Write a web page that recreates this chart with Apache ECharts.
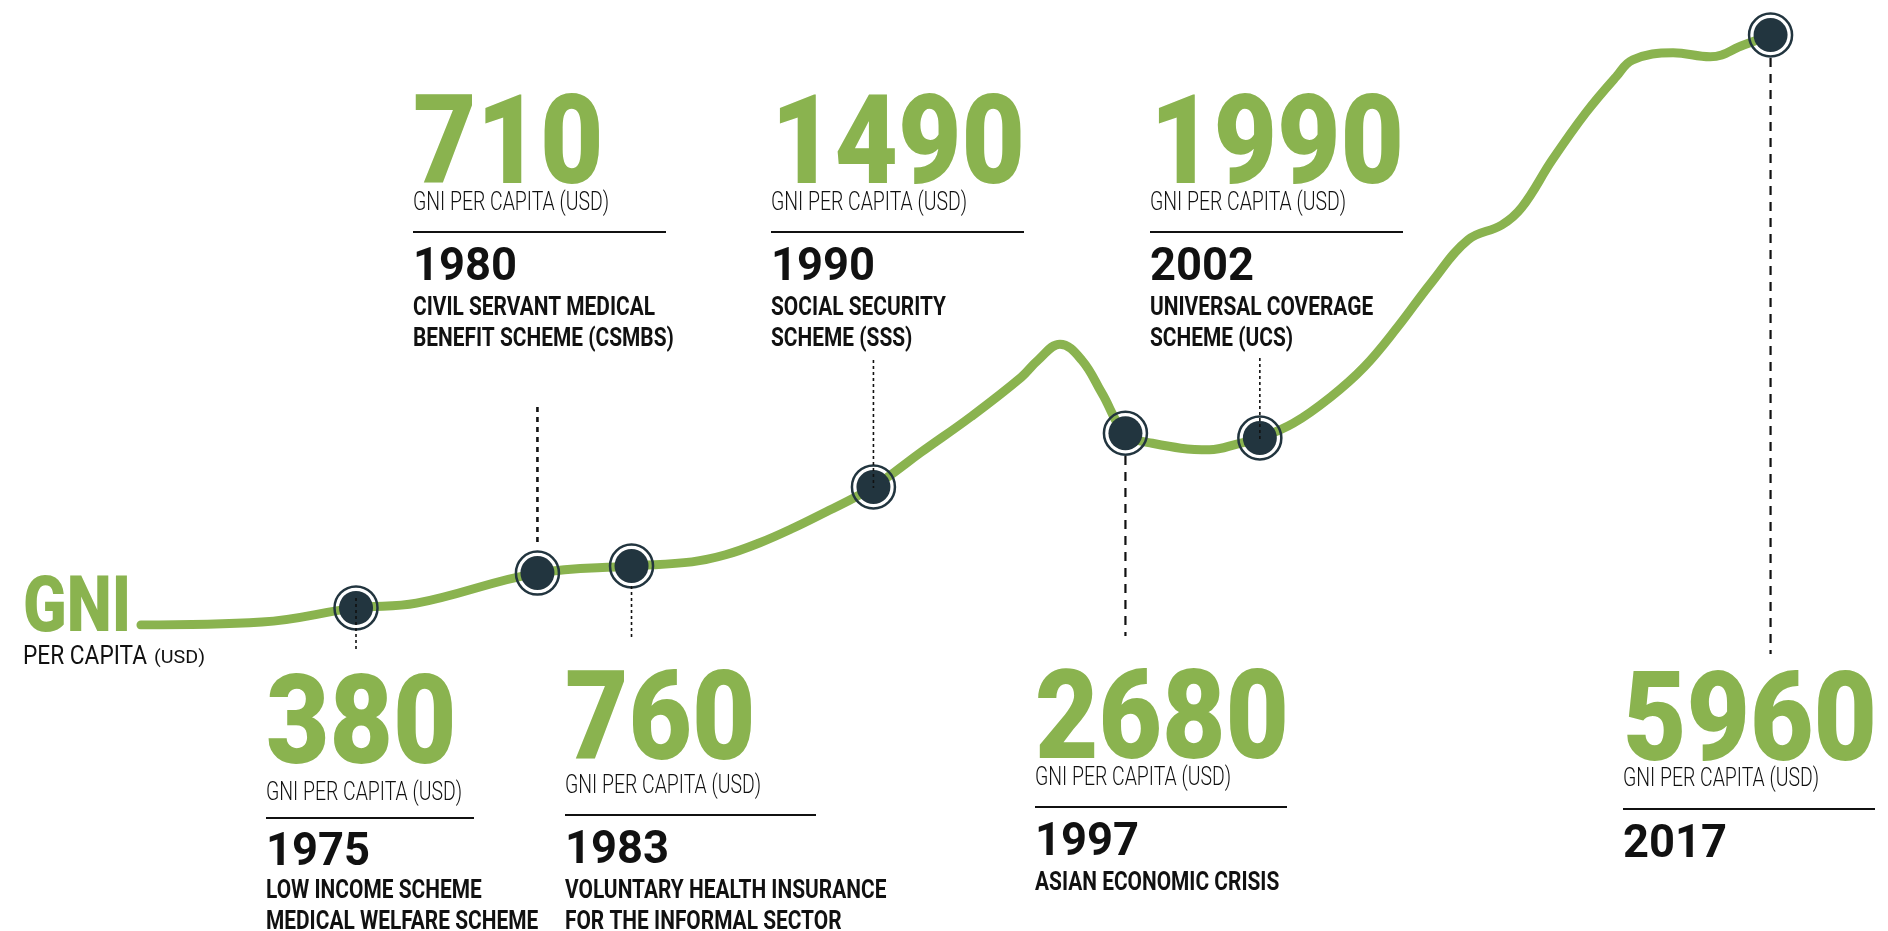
<!DOCTYPE html>
<html>
<head>
<meta charset="utf-8">
<title>GNI per capita timeline</title>
<script src="https://cdn.jsdelivr.net/npm/echarts@6/dist/echarts.min.js"></script>
<style>
  html, body { margin: 0; padding: 0; background: #fff; }
  #chart { width: 1888px; height: 931px; }
</style>
</head>
<body>
<div id="chart"></div>
<script>
// Curve shape: x = timeline year, y = relative height (0-100)
const curveYears = [1968.6, 1972.2, 1976.8, 1985.0, 1986.0, 1987.0, 1988.0, 1989.0, 1989.8,
  1991.0, 1991.8, 1993.3, 1994.8, 1995.3, 1995.95, 1996.6, 1997.2, 1998.7, 2000.4, 2001.3,
  2002.9, 2004.0, 2005.0, 2006.0, 2007.0, 2008.1, 2009.1, 2009.7, 2010.6, 2011.6, 2012.5,
  2013.0, 2014.2, 2015.3, 2016.3]
const curveLevels = [0, 0.5, 3.7, 10.7, 11.9, 13.9, 16.4, 19.2, 21.5,
  25.8, 29.2, 35.3, 42.0, 44.9, 47.6, 44.9, 39.3, 30.8, 29.7, 30.8,
  34.2, 38.6, 43.7, 50.5, 58.0, 65.3, 67.8, 70.8, 78.8, 86.8, 92.9,
  95.8, 97.0, 96.3, 98.3]

// Milestones
const milestoneYears = ['1975', '1980', '1983', '1990', '1997', '2002', '2017']
const milestonePos = [1975.0, 1980.4, 1983.2, 1990.4, 1997.9, 2001.9, 2017.1]
const milestoneLevels = [2.9, 8.8, 10.0, 23.4, 32.5, 31.7, 100]
const gniValues = [380, 710, 760, 1490, 2680, 1990, 5960]
const schemes = [
  ['LOW INCOME SCHEME', 'MEDICAL WELFARE SCHEME'],
  ['CIVIL SERVANT MEDICAL', 'BENEFIT SCHEME (CSMBS)'],
  ['VOLUNTARY HEALTH INSURANCE', 'FOR THE INFORMAL SECTOR'],
  ['SOCIAL SECURITY', 'SCHEME (SSS)'],
  ['ASIAN ECONOMIC CRISIS'],
  ['UNIVERSAL COVERAGE', 'SCHEME (UCS)'],
  [],
]
const unitLabel = 'GNI PER CAPITA (USD)'

const GREEN = '#8ab34f'
const NAVY = '#22353f'
const INK = '#111111'
const FONT = 'Roboto'

// where each text block sits (cap centres, px)
const blockLayout = [
  { x: 266, num: 717, sub: 791, rule: 818, ruleW: 208, year: 848, desc: 889, link: [598, 652], dash: 'dot' },
  { x: 413, num: 137, sub: 201, rule: 232, ruleW: 253, year: 263, desc: 306, link: [407, 545], dash: 'mid' },
  { x: 565, num: 713, sub: 784, rule: 815, ruleW: 251, year: 846, desc: 889, link: [586, 637], dash: 'dot' },
  { x: 771, num: 137, sub: 201, rule: 232, ruleW: 253, year: 263, desc: 306, link: [360, 488], dash: 'dot' },
  { x: 1035, num: 712, sub: 776, rule: 807, ruleW: 252, year: 838, desc: 881, link: [456, 636], dash: 'long' },
  { x: 1150, num: 137, sub: 201, rule: 232, ruleW: 253, year: 263, desc: 306, link: [358, 440], dash: 'dot' },
  { x: 1623, num: 714, sub: 777, rule: 809, ruleW: 252, year: 840, desc: 881, link: [58, 654], dash: 'long' },
]

const dashStyles = {
  dot: { lineWidth: 1.6, lineDash: [3, 3] },
  mid: { lineWidth: 2.6, lineDash: [5, 5] },
  long: { lineWidth: 2.2, lineDash: [9, 7] },
}

// text styles; ref = [sample, width in the drawing] used to squeeze the font
const textStyles = {
  big: { size: 125, weight: 900, color: GREEN, ref: ['1490', 254] },
  sub: { size: 25, weight: 300, color: INK, ref: [unitLabel, 196] },
  year: { size: 46, weight: 700, color: INK, ref: ['1980', 104] },
  desc: { size: 25, weight: 700, color: INK, ref: ['CIVIL SERVANT MEDICAL', 242] },
  label: { size: 77, weight: 900, color: GREEN, ref: ['GNI', 108] },
  per: { size: 26, weight: 400, color: INK, ref: ['PER CAPITA', 124] },
  usd: { size: 19, weight: 400, color: INK, ref: ['(USD)', 51] },
}

const measureCtx = document.createElement('canvas').getContext('2d')
function measure(text, st) {
  measureCtx.font = `${st.weight} ${st.size}px ${FONT}`
  return measureCtx.measureText(text).width
}
Object.values(textStyles).forEach((st) => {
  st.squeeze = st.ref[1] / measure(st.ref[0], st)
})

// y is the centre of the capitals; zrender's middle sits a bit above it
function textEl(text, styleName, x, y) {
  const st = textStyles[styleName]
  return {
    type: 'text',
    x,
    y: y + st.size * 0.12,
    scaleX: st.squeeze,
    silent: true,
    style: {
      text,
      x: 0,
      y: 0,
      fill: st.color,
      font: `${st.weight} ${st.size}px ${FONT}`,
      align: 'left',
      verticalAlign: 'middle',
    },
  }
}

const milestoneData = milestonePos.map((p, i) => [p, milestoneLevels[i]])
const curveData = curveYears.map((y, i) => [y, curveLevels[i]])
  .concat(milestoneData)
  .sort((a, b) => a[0] - b[0])

const chart = echarts.init(document.getElementById('chart'))

chart.setOption({
  animation: false,
  backgroundColor: '#fff',
  grid: { left: 20, right: 20, top: 35, bottom: 306 },
  xAxis: { type: 'value', min: 1965, max: 2020, show: false },
  yAxis: { type: 'value', min: 0, max: 100, show: false },
  series: [
    {
      type: 'line',
      data: curveData,
      smooth: 0.4,
      showSymbol: false,
      lineStyle: { color: GREEN, width: 9, cap: 'round', join: 'round' },
      z: 1,
    },
    {
      type: 'scatter',
      data: milestoneData,
      symbolSize: 43,
      itemStyle: { color: 'rgba(0,0,0,0)', borderColor: NAVY, borderWidth: 2.5, opacity: 1 },
      z: 3,
    },
    {
      type: 'scatter',
      data: milestoneData,
      symbolSize: 34,
      itemStyle: { color: NAVY, opacity: 1 },
      z: 4,
    },
  ],
})

const graphics = []

// left title
graphics.push(textEl('GNI', 'label', 23, 603))
graphics.push(textEl('PER CAPITA', 'per', 23, 654))
graphics.push(textEl('(USD)', 'usd', 154, 656))

milestoneYears.forEach((yr, i) => {
  const b = blockLayout[i]
  const px = chart.convertToPixel({ gridIndex: 0 }, milestoneData[i])

  graphics.push({
    type: 'line',
    silent: true,
    z: 10,
    shape: { x1: px[0], y1: b.link[0], x2: px[0], y2: b.link[1] },
    style: Object.assign({ stroke: INK }, dashStyles[b.dash]),
  })

  graphics.push(textEl(String(gniValues[i]), 'big', b.x, b.num))
  graphics.push(textEl(unitLabel, 'sub', b.x, b.sub))
  graphics.push({
    type: 'line',
    silent: true,
    shape: { x1: b.x, y1: b.rule, x2: b.x + b.ruleW, y2: b.rule },
    style: { stroke: INK, lineWidth: 2 },
  })
  graphics.push(textEl(yr, 'year', b.x, b.year))
  schemes[i].forEach((line, j) => {
    graphics.push(textEl(line, 'desc', b.x, b.desc + j * 31))
  })
})

chart.setOption({ graphic: { elements: graphics } })
</script>
</body>
</html>
